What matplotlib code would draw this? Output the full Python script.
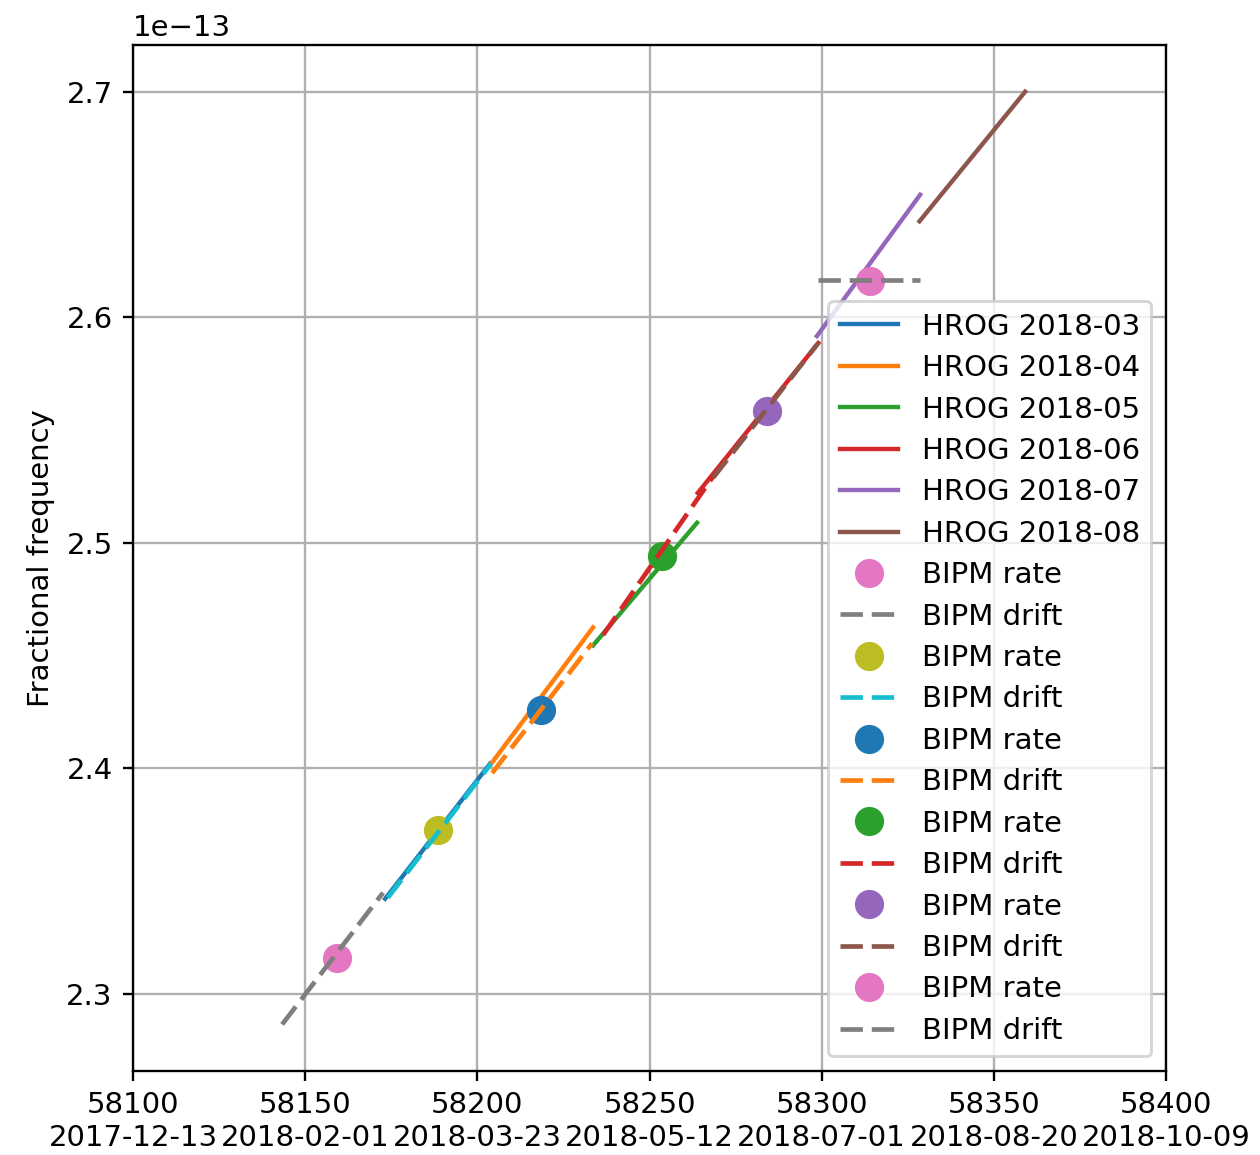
import matplotlib
matplotlib.use("Agg")
import matplotlib.pyplot as plt
import numpy as np

# HROG monthly frequency segments (values in units of 1e-13)
hrog_labels = ['HROG 2018-03', 'HROG 2018-04', 'HROG 2018-05',
               'HROG 2018-06', 'HROG 2018-07', 'HROG 2018-08']
hrog_mjd_start = [58173.2, 58203.7, 58233.6, 58264.0, 58298.6, 58328.4]
hrog_mjd_end = [58203.7, 58233.6, 58263.8, 58299.0, 58328.6, 58359.1]
hrog_val_start = [2.342, 2.4013, 2.4544, 2.522, 2.5916, 2.6425]
hrog_val_end = [2.402, 2.4624, 2.5088, 2.5885, 2.6543, 2.700]

# BIPM rate points
rate_mjd = [58159.2, 58188.7, 58218.5, 58253.5, 58284.1, 58314.0]
rate_val = [2.3158, 2.3726, 2.4257, 2.4942, 2.5584, 2.6159]

# BIPM drift segments
drift_mjd_start = [58143.3, 58174.0, 58204.3, 58236.5, 58268.5, 58299.0]
drift_mjd_end = [58172.6, 58204.0, 58233.3, 58271.5, 58299.0, 58328.6]
drift_val_start = [2.2863, 2.3425, 2.3978, 2.459, 2.5288, 2.6164]
drift_val_end = [2.3447, 2.4020, 2.4553, 2.536, 2.5885, 2.6164]

scale = 1e-13

xtick_mjd = [58100, 58150, 58200, 58250, 58300, 58350, 58400]
xtick_dates = ['2017-12-13', '2018-02-01', '2018-03-23', '2018-05-12',
               '2018-07-01', '2018-08-20', '2018-10-09']

fig = plt.figure(figsize=(6, 5.5), dpi=210)
ax = fig.add_axes([0.1056, 0.0727, 0.8198, 0.8883])

for lab, x0, x1, y0, y1 in zip(hrog_labels, hrog_mjd_start, hrog_mjd_end,
                               hrog_val_start, hrog_val_end):
    ax.plot([x0, x1], [y0 * scale, y1 * scale], label=lab)

for xr, yr, x0, x1, y0, y1 in zip(rate_mjd, rate_val, drift_mjd_start, drift_mjd_end,
                                  drift_val_start, drift_val_end):
    ax.plot([xr], [yr * scale], 'o', ms=9, label='BIPM rate')
    ax.plot([x0, x1], [y0 * scale, y1 * scale], ls=(0, (4.8, 1.9)), lw=1.6,
            label='BIPM drift')

ax.set_xlim(58100, 58400)
ax.set_xticks(xtick_mjd)
ax.set_xticklabels([f"{m}\n{d}" for m, d in zip(xtick_mjd, xtick_dates)])
ax.set_yticks(np.array([2.3, 2.4, 2.5, 2.6, 2.7]) * scale)
ax.set_ylabel('Fractional frequency')
ax.grid(True)
ax.legend(loc='lower right', labelspacing=0.46)

fig.savefig('out.png', dpi=210)
